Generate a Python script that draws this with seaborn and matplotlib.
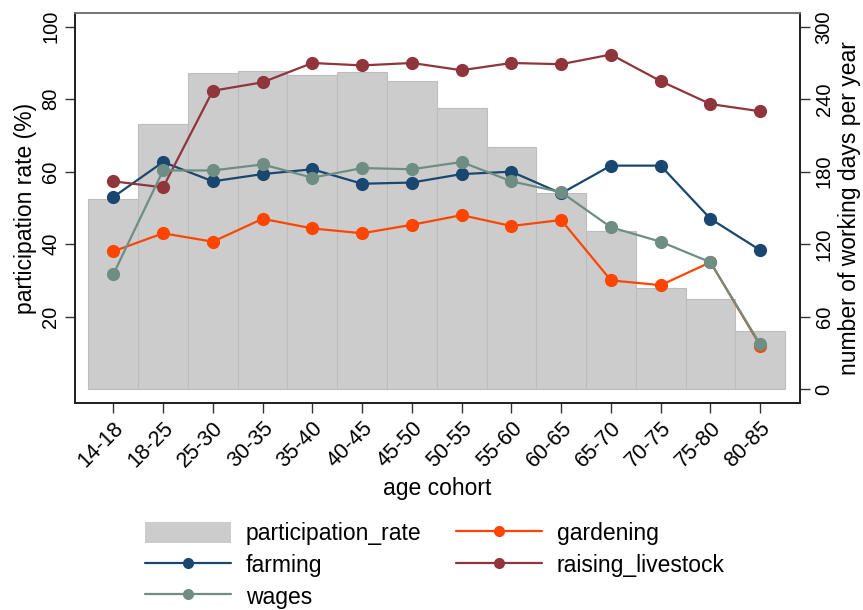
import numpy as np
import pandas as pd
import matplotlib
matplotlib.use("Agg")
import matplotlib.pyplot as plt
import seaborn as sns
from matplotlib.patches import Patch
from matplotlib.lines import Line2D

sns.set_theme(style="white")
plt.rcParams["font.family"] = ["Liberation Sans", "DejaVu Sans"]
plt.rcParams["text.color"] = "black"
plt.rcParams["axes.labelcolor"] = "black"
plt.rcParams["xtick.color"] = "black"
plt.rcParams["ytick.color"] = "black"

# Age cohorts on the x axis
cohorts = ["14-18", "18-25", "25-30", "30-35", "35-40", "40-45", "45-50",
           "50-55", "55-60", "60-65", "65-70", "70-75", "75-80", "80-85"]

# Participation rate (%), left axis
participation_rate = [52.4, 73.1, 87.1, 87.7, 86.8, 87.6, 84.9,
                      77.7, 66.7, 54.0, 43.5, 27.8, 24.8, 15.9]

# Working days per year by activity, right axis
farming = [159, 188, 172, 178, 182, 170, 171, 178, 180, 162, 185, 185, 141, 115]
gardening = [114, 129, 122, 141, 133, 129, 136, 144, 135, 140, 90, 86, 105, 36]
raising_livestock = [172, 167, 247, 254, 270, 268, 270, 264, 270, 269, 277, 255, 236, 230]
wages = [95, 181, 181, 186, 175, 183, 182, 188, 172, 163, 134, 122, 105, 37]

# drawing order (later series sit on top)
draw_order = ["farming", "gardening", "raising_livestock", "wages"]
series = {"farming": farming, "gardening": gardening,
          "raising_livestock": raising_livestock, "wages": wages}
palette = {"farming": "#1a476f", "wages": "#6e8e84",
           "gardening": "#ff4500", "raising_livestock": "#90353b"}
legend_order = ["farming", "wages", "gardening", "raising_livestock"]

bars = pd.DataFrame({"cohort": cohorts, "participation_rate": participation_rate})
lines = pd.DataFrame({
    "pos": np.tile(np.arange(len(cohorts)), len(draw_order)),
    "series": np.repeat(draw_order, len(cohorts)),
    "days": np.concatenate([series[n] for n in draw_order]),
})

fig = plt.figure(figsize=(8.63, 6.10), dpi=100)
ax = fig.add_axes([0.0869, 0.3393, 0.8401, 0.6394])

sns.barplot(data=bars, x="cohort", y="participation_rate", ax=ax, width=1.0,
            color="#cccccc", saturation=1, edgecolor="#bdbdbd", linewidth=0.8)

ax2 = ax.twinx()
sns.lineplot(data=lines, x="pos", y="days", hue="series", hue_order=draw_order,
             palette=palette, marker="o", markersize=9.5, markeredgewidth=0,
             linewidth=1.6, ax=ax2, legend=False)

fs_tick = 14.5
fs_lab = 16.5
ax.set_xlim(-0.77, 13.8)
ax2.set_xlim(-0.77, 13.8)
ax.set_ylim(-3.86, 103.8)
ax2.set_ylim(-11.58, 311.4)

ax.set_xticks(np.arange(len(cohorts)))
ax.set_xticklabels(cohorts, rotation=45, ha="right", rotation_mode="anchor", fontsize=15.5)
ax.set_yticks([20, 40, 60, 80, 100])
ax.set_yticklabels(["20", "40", "60", "80", "100"], rotation=90, va="center", fontsize=fs_tick)
ax2.set_yticks([0, 60, 120, 180, 240, 300])
ax2.set_yticklabels(["0", "60", "120", "180", "240", "300"], rotation=90, va="center", fontsize=fs_tick)

ax.set_xlabel("age cohort", fontsize=fs_lab, labelpad=4)
ax.set_ylabel("participation rate (%)", fontsize=fs_lab, labelpad=3)
ax2.set_ylabel("number of working days per year", fontsize=fs_lab, labelpad=3)

for a in (ax, ax2):
    a.tick_params(axis="both", which="both", direction="out", length=7.5, width=1,
                  color="#333333", pad=3)
    for s in a.spines.values():
        s.set_color("#222222")
        s.set_linewidth(1.3)
ax.spines["top"].set_color("#777777")
ax2.spines["top"].set_color("#777777")
ax.tick_params(axis="x", bottom=True)
ax.tick_params(axis="y", left=True)
ax2.tick_params(axis="y", right=True)
ax.grid(False)
ax2.grid(False)

handles = [Patch(facecolor="#cccccc", edgecolor="none", label="participation_rate")]
for name in legend_order:
    handles.append(Line2D([], [], color=palette[name], marker="o", markersize=8,
                          linewidth=1.6, markeredgewidth=0, label=name))
fig.legend(handles=handles, loc="upper left", bbox_to_anchor=(0.168, 0.145),
           ncol=2, frameon=False, fontsize=fs_lab, handlelength=3.75, handleheight=1.04,
           handletextpad=0.65, columnspacing=1.5, labelspacing=0.37, borderpad=0,
           borderaxespad=0)

fig.savefig("out.png", dpi=100)
